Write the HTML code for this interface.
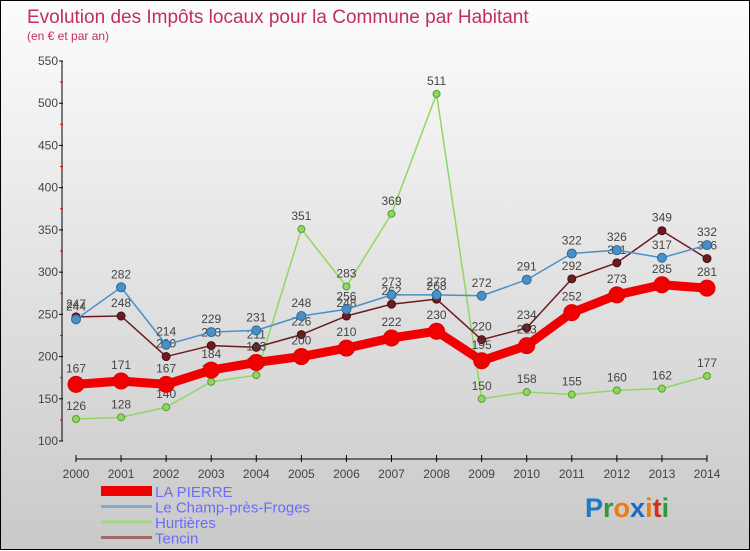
<!DOCTYPE html>
<html><head><meta charset="utf-8"><style>
body{margin:0;}
#wrap{width:748px;height:548px;border:1px solid #000;background:linear-gradient(#fcfcfc,#c9c9c9);position:relative;font-family:"Liberation Sans",sans-serif;}
svg{position:absolute;left:0;top:0;}
</style></head><body>
<div id="wrap">
<svg id="chart" width="750" height="550">
<text x="26" y="22" font-size="19" fill="#c0305a">Evolution des Impôts locaux pour la Commune par Habitant</text>
<text x="26" y="39" font-size="12" fill="#c0305a">(en € et par an)</text>
</svg>
</div>
<script>
const years=["2000","2001","2002","2003","2004","2005","2006","2007","2008","2009","2010","2011","2012","2013","2014"];
const yTicks=[100,150,200,250,300,350,400,450,500,550];
const laPierre=[167,171,167,184,193,200,210,222,230,195,213,252,273,285,281];
const champ=[244,282,214,229,231,248,256,273,273,272,291,322,326,317,332];
const hurtieres=[126,128,140,170,178,351,283,369,511,150,158,155,160,162,177];
const tencin=[247,248,200,213,211,226,248,262,268,220,234,292,311,349,316];
const seriesNames=["LA PIERRE","Le Champ-près-Froges","Hurtières","Tencin"];

const svg=document.getElementById('chart');
const NS="http://www.w3.org/2000/svg";
const X=i=>75+i*(706-75)/(years.length-1);
const Y=v=>440-(v-100)*(380/450);
function mk(t,a,p){const e=document.createElementNS(NS,t);for(const k in a)e.setAttribute(k,a[k]);(p||svg).appendChild(e);return e;}
// axes
let ya=mk('line',{x1:61,y1:60,x2:61,y2:440,stroke:'#000','stroke-width':1});


yTicks.forEach((v,k)=>{
  mk('line',{x1:58,x2:62,y1:Y(v),y2:Y(v),stroke:'#000'});
  if(k<yTicks.length-1) mk('line',{x1:59,x2:62,y1:Y(v+25),y2:Y(v+25),stroke:'#e00'});
  const t=mk('text',{x:57,y:Y(v)+4,'font-size':12,'text-anchor':'end',fill:'#444'});t.textContent=v;
  
  
});
let xa=mk('line',{x1:75,y1:458,x2:706,y2:458,stroke:'#000'});


years.forEach((y,i)=>{
  mk('line',{x1:X(i),x2:X(i),y1:454,y2:461,stroke:'#000'});
  const t=mk('text',{x:X(i),y:477,'font-size':12,'text-anchor':'middle',fill:'#444'});t.textContent=y;
  
  
});
function series(data,color,w,r,name,stroke){
  const g=mk('g',{});
  
  
  mk('polyline',{points:data.map((v,i)=>X(i)+','+Y(v)).join(' '),fill:'none',stroke:color,'stroke-width':w,'stroke-linejoin':'round'},g);
  data.forEach((v,i)=>{
    const c=mk('circle',{cx:X(i),cy:Y(v),r:r,fill:color,stroke:stroke,'stroke-width':1},g);
    
    
    const t=mk('text',{x:X(i),y:Y(v)-9-(r>5?3:0),'font-size':12,'text-anchor':'middle',fill:'#444'},g);t.textContent=v;
  });
}
series(hurtieres,'#8fd860',1.5,3.5,'hurtieres-series','#5a9a30');
series(tencin,'#6b1c20',1.5,4,'tencin-series','#4a1010');
series(champ,'#4a90c8',1.5,4.5,'champ-series','#2a6a9a');
series(laPierre,'#f00000',9,8,'la-pierre-series','#e00000');
// legend
const lc=['#f00000','#80acd0','#a0d880','#a06868'];
const lw=[10,3,3,3];
seriesNames.forEach((n,k)=>{
  const y=490+k*15.5;
  const l=mk('line',{x1:100,x2:151,y1:y,y2:y,stroke:lc[k],'stroke-width':lw[k]});
  
  
  const t=mk('text',{x:154,y:y+6,'font-size':15,fill:'#6a6aff'});t.textContent=n;
  
  
});
// logo
const logo=mk('text',{x:584,y:516,'font-size':27,'font-weight':'bold'});


[['P','#1a7ac8'],['r','#2a9a3a'],['o','#f07a10'],['x','#1a6ac0'],['i','#f07a10'],['t','#d03020'],['i','#2a9a3a']].forEach(([c,f])=>{const s=mk('tspan',{fill:f},logo);s.textContent=c;});
</script>
</body></html>
